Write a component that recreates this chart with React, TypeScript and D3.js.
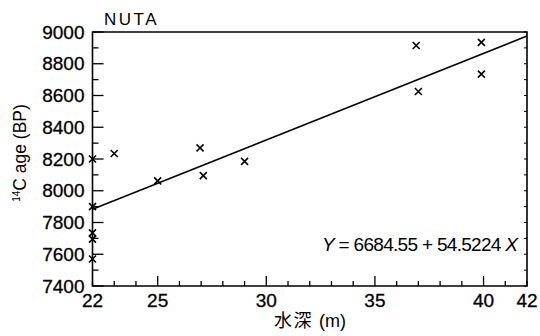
import React from "react";
import * as d3 from "d3";

const depths = [22, 22, 22, 22, 22, 23, 25, 26.95, 27.1, 29, 36.9, 37, 39.9, 39.9];
const ages = [8200, 7900, 7735, 7695, 7570, 8235, 8062, 8270, 8095, 8185, 8915, 8625, 8935, 8735];
const xTickLabels = [22, 25, 30, 35, 40, 42];
const yTickLabels = [7400, 7600, 7800, 8000, 8200, 8400, 8600, 8800, 9000];
const regression = [6684.55, 54.5224];
const lineRange = [22, 42];

const W = 540;
const H = 336;
const left = 92.5;
const right = 527;
const top = 32;
const bottom = 286;
const FONT = "'Liberation Sans', Arial, Helvetica, sans-serif";

export default function App() {
  const x = d3.scaleLinear().domain([22, 42]).range([left, right]);
  const y = d3.scaleLinear().domain([7400, 9000]).range([bottom, top]);
  const minorX = d3.range(22, 43, 1);
  const minorY = d3.range(7400, 9001, 100);
  const lineData = lineRange.map((d) => [d, regression[0] + regression[1] * d] as [number, number]);
  const line = d3
    .line<[number, number]>()
    .x((d) => x(d[0]))
    .y((d) => Math.max(top, y(d[1])));
  const s = 3.5;
  return (
    <svg
      width={W}
      height={H}
      style={{ position: "absolute", left: 0, top: 0, background: "#fff" }}
      fontFamily={FONT}
    >
      <rect x={0} y={0} width={W} height={H} fill="#fff" />
      <path
        d={`M${left},${top}H${right}V${bottom}H${left}Z`}
        fill="none"
        stroke="#000"
        strokeWidth={1.6}
      />
      {minorX.map((v) => {
        const major = v % 5 === 0;
        return (
          <line
            key={"xt" + v}
            x1={x(v)}
            x2={x(v)}
            y1={bottom}
            y2={bottom - (major ? 10 : 5)}
            stroke="#000"
            strokeWidth={1.3}
          />
        );
      })}
      {minorY.map((v) => {
        const major = v % 200 === 0;
        return (
          <line
            key={"yt" + v}
            x1={left}
            x2={left + (major ? 11 : 6)}
            y1={y(v)}
            y2={y(v)}
            stroke="#000"
            strokeWidth={1.3}
          />
        );
      })}
      {minorY.map((v) => (
        <line
          key={"yr" + v}
          x1={right}
          x2={right - 3}
          y1={y(v)}
          y2={y(v)}
          stroke="#000"
          strokeWidth={1}
        />
      ))}
      {xTickLabels.map((v) => (
        <text
          key={"xl" + v}
          x={x(v)}
          y={307}
          textAnchor="middle"
          fontSize={19}
          fill="#000"
          stroke="#000"
          strokeWidth={0.3}
        >
          {v}
        </text>
      ))}
      {yTickLabels.map((v) => (
        <text
          key={"yl" + v}
          x={84.5}
          y={y(v) + 6.5}
          textAnchor="end"
          fontSize={19}
          fill="#000"
          stroke="#000"
          strokeWidth={0.3}
        >
          {v}
        </text>
      ))}
      <path d={line(lineData) || ""} fill="none" stroke="#000" strokeWidth={1.6} />
      {depths.map((d, i) => {
        const cx = x(d);
        const cy = y(ages[i]);
        return (
          <path
            key={"p" + i}
            d={`M${cx - s},${cy - s}L${cx + s},${cy + s}M${cx - s},${cy + s}L${cx + s},${cy - s}`}
            stroke="#000"
            strokeWidth={1.6}
          />
        );
      })}
      <text x={104} y={25} fontSize={17} letterSpacing={2.5} fill="#000">
        NUTA
      </text>
      <text
        transform={`translate(26,153) rotate(-90)`}
        textAnchor="middle"
        fontSize={17.5}
        fill="#000"
      >
        <tspan fontSize={10} dy={-6}>14</tspan>
        <tspan dy={6}>C age (BP)</tspan>
      </text>
      <text x={310} y={327} textAnchor="middle" fontSize={18} fill="#000">
        <tspan fontFamily="'Noto Sans CJK JP', sans-serif" letterSpacing={1.5}>水深</tspan>
        <tspan dx={6}>(m)</tspan>
      </text>
      <text x={322} y={251} fontSize={19} fill="#000" textLength={196} lengthAdjust="spacing">
        <tspan fontStyle="italic">Y</tspan>
        <tspan> = 6684.55 + 54.5224 </tspan>
        <tspan fontStyle="italic">X</tspan>
      </text>
    </svg>
  );
}
